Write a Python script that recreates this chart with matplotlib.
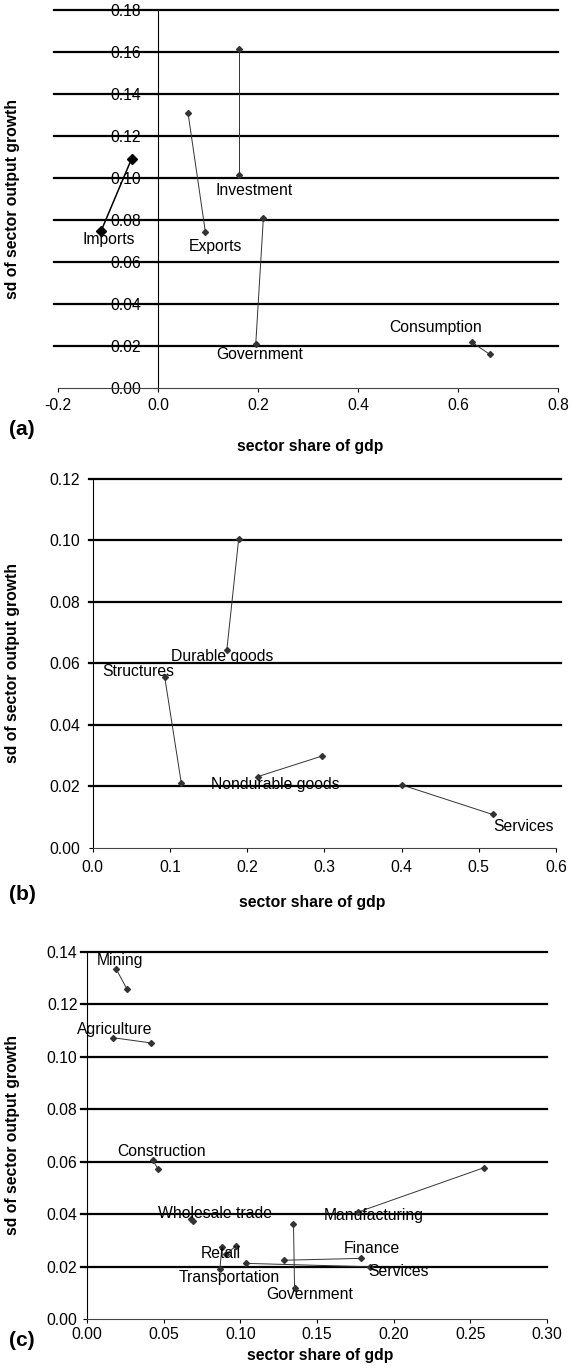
import numpy as np
import matplotlib
matplotlib.use('Agg')
import matplotlib.pyplot as plt
from matplotlib.ticker import FormatStrFormatter

plt.rcParams['font.family'] = ['Liberation Sans', 'DejaVu Sans']
plt.rcParams['axes.unicode_minus'] = False

# panel (a): demand components, two points each
a_names = ['Investment', 'Exports', 'Imports', 'Government', 'Consumption']
a_x1 = [0.1615, 0.060, -0.053, 0.2107, 0.627]
a_y1 = [0.1614, 0.131, 0.109, 0.0807, 0.0218]
a_x2 = [0.1615, 0.0947, -0.1136, 0.1955, 0.6635]
a_y2 = [0.1014, 0.0743, 0.0748, 0.0208, 0.0159]
a_lx = [0.193, 0.114, -0.099, 0.2035, 0.556]
a_ly = [0.0941, 0.0671, 0.0708, 0.0159, 0.0286]

# panel (b): goods / structures / services
b_names = ['Durable goods', 'Structures', 'Nondurable goods', 'Services']
b_x1 = [0.189, 0.0932, 0.2136, 0.4005]
b_y1 = [0.1003, 0.0556, 0.0231, 0.0204]
b_x2 = [0.1737, 0.1148, 0.2969, 0.518]
b_y2 = [0.0643, 0.0209, 0.0298, 0.0108]
b_lx = [0.168, 0.0589, 0.2362, 0.5577]
b_ly = [0.0621, 0.0572, 0.0206, 0.0068]

# panel (c): industries
c_names = ['Mining', 'Agriculture', 'Construction', 'Manufacturing',
           'Wholesale trade', 'Government', 'Finance', 'Services',
           'Retail', 'Transportation']
c_x1 = [0.019, 0.0171, 0.0427, 0.259, 0.0675, 0.1346, 0.1282, 0.1036, 0.0972, 0.0866]
c_y1 = [0.1333, 0.1072, 0.0606, 0.0577, 0.0381, 0.0361, 0.0224, 0.0212, 0.0279, 0.0192]
c_x2 = [0.0258, 0.0419, 0.0462, 0.1765, 0.069, 0.1353, 0.1784, 0.1848, 0.0905, 0.0879]
c_y2 = [0.1259, 0.1052, 0.0572, 0.0407, 0.0375, 0.0117, 0.0231, 0.0199, 0.0247, 0.0276]
c_lx = [0.0213, 0.018, 0.0483, 0.1867, 0.0834, 0.1452, 0.186, 0.2033, 0.087, 0.0924]
c_ly = [0.1368, 0.1105, 0.0638, 0.0393, 0.0403, 0.0094, 0.0267, 0.018, 0.0248, 0.0157]

W, H = 570, 1369
fig = plt.figure(figsize=(W / 100, H / 100), dpi=100)

FS = 11.3


def px_ax(l, t, r, b):
    return fig.add_axes([l / W, 1 - b / H, (r - l) / W, (b - t) / H])


def panel(ax, names, x1, y1, x2, y2, lx, ly, xlim, ylim, yticks, xticks,
          xfmt, yfmt, grid_ext, ypad, xpad, bold=None):
    ax.set_xlim(*xlim)
    ax.set_ylim(*ylim)
    for i, n in enumerate(names):
        lw, ms, col = 0.7, 3, '#333333'
        if bold is not None and n == bold:
            lw, ms, col = 1.1, 5, 'black'
        ax.plot([x1[i], x2[i]], [y1[i], y2[i]], '-', color=col, lw=lw,
                marker='D', ms=ms, mfc=col, mec=col, zorder=4, clip_on=False)
        ax.text(lx[i], ly[i], n, fontsize=FS, ha='center', va='center', zorder=5)
    for yv in yticks[1:]:
        ax.axhline(yv, xmin=grid_ext[0], xmax=grid_ext[1], color='black',
                   lw=1.6, zorder=3, clip_on=False)
    ax.set_yticks(yticks)
    ax.set_xticks(xticks)
    ax.xaxis.set_major_formatter(FormatStrFormatter(xfmt))
    ax.yaxis.set_major_formatter(FormatStrFormatter(yfmt))
    for s in ['top', 'right']:
        ax.spines[s].set_visible(False)
    ax.spines['left'].set_linewidth(0.8)
    ax.spines['bottom'].set_linewidth(0.8)
    ax.spines['bottom'].set_color('#444444')
    ax.tick_params(axis='y', direction='out', length=3, width=0.8, pad=ypad, labelsize=FS)
    ax.tick_params(axis='x', direction='out', length=3, width=0.8, pad=xpad, labelsize=FS)


# (a)
ax1 = px_ax(58, 10, 558, 387.7)
panel(ax1, a_names, a_x1, a_y1, a_x2, a_y2, a_lx, a_ly, (-0.2, 0.8), (0, 0.18),
      np.arange(0, 0.181, 0.02), np.arange(-0.2, 0.81, 0.2), '%.1f', '%.2f',
      (-0.008, 1.0), 9, 4.5, bold='Imports')
ax1.spines['left'].set_position(('data', 0))
ax1.set_xlabel('sector share of gdp', fontsize=FS, fontweight='bold')
ax1.xaxis.set_label_coords((310 - 58) / 500, -(439 - 387.7) / 377.7)
ax1.set_ylabel('sd of sector output growth', fontsize=FS, fontweight='bold')
ax1.yaxis.set_label_coords((20 - 58) / 500, 0.5)

# (b)
ax2 = px_ax(92.7, 478.7, 556, 847.7)
panel(ax2, b_names, b_x1, b_y1, b_x2, b_y2, b_lx, b_ly, (0, 0.6), (0, 0.12),
      np.arange(0, 0.121, 0.02), np.arange(0, 0.61, 0.1), '%.1f', '%.2f',
      (-0.008, 1.011), 6, 6)
ax2.set_xlabel('sector share of gdp', fontsize=FS, fontweight='bold')
ax2.xaxis.set_label_coords((312 - 92.7) / 463.3, -(895 - 847.7) / 369)
ax2.set_ylabel('sd of sector output growth', fontsize=FS, fontweight='bold')
ax2.yaxis.set_label_coords((20 - 92.7) / 463.3, 0.5)

# (c)
ax3 = px_ax(87.2, 951.7, 547, 1319)
panel(ax3, c_names, c_x1, c_y1, c_x2, c_y2, c_lx, c_ly, (0, 0.3), (0, 0.14),
      np.arange(0, 0.141, 0.02), np.arange(0, 0.301, 0.05), '%.2f', '%.2f',
      (-0.014, 1.0), 4, 3)
ax3.set_xlabel('sector share of gdp', fontsize=FS, fontweight='bold')
ax3.xaxis.set_label_coords((320 - 87.2) / 459.8, -(1348 - 1319) / 367.3)
ax3.set_ylabel('sd of sector output growth', fontsize=FS, fontweight='bold')
ax3.yaxis.set_label_coords((20 - 87.2) / 459.8, 0.5)

for lab, yp in [('(a)', 430), ('(b)', 895), ('(c)', 1341)]:
    fig.text(22 / W, 1 - yp / H, lab, fontsize=15, fontweight='bold',
             ha='center', va='center')

fig.savefig('out.png', dpi=100)
